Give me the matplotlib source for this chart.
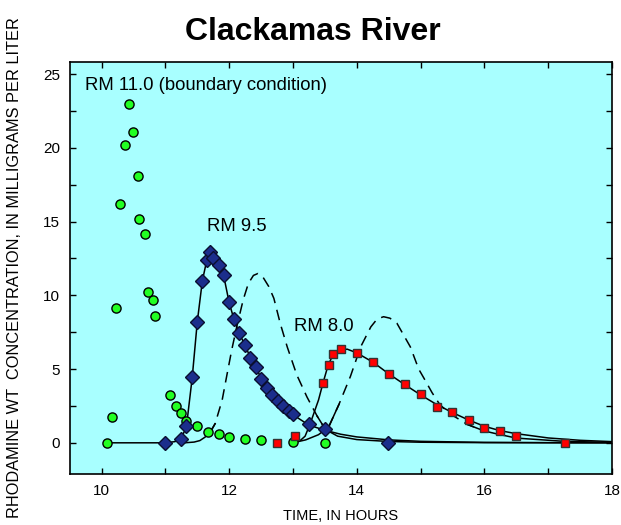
import matplotlib
matplotlib.use("Agg")
import matplotlib.pyplot as plt
import numpy as np
from matplotlib.ticker import MultipleLocator

plt.rcParams['font.family'] = ['Liberation Sans', 'DejaVu Sans']

# ---- Observed data ----
rm110_t = [10.08, 10.16, 10.225, 10.29, 10.37, 10.43, 10.50, 10.57, 10.59, 10.68,
           10.73, 10.80, 10.83, 11.08, 11.17, 11.25, 11.33, 11.50, 11.67, 11.84,
           12.00, 12.25, 12.50, 13.00, 13.50]
rm110_c = [0.0, 1.72, 9.11, 16.2, 20.2, 23.0, 21.06, 18.1, 15.17, 14.13,
           10.24, 9.65, 8.61, 3.23, 2.49, 1.99, 1.45, 1.13, 0.70, 0.59,
           0.39, 0.26, 0.20, 0.07, 0.0]

rm95_t = [11.00, 11.25, 11.33, 11.42, 11.50, 11.58, 11.65, 11.70, 11.75, 11.84,
          11.92, 12.00, 12.08, 12.16, 12.25, 12.33, 12.42, 12.50, 12.59, 12.67,
          12.77, 12.84, 12.93, 13.00, 13.25, 13.50, 14.49]
rm95_c = [0.0, 0.23, 1.15, 4.43, 8.2, 11.0, 12.39, 12.95, 12.5, 12.05,
          11.37, 9.56, 8.37, 7.43, 6.6, 5.74, 5.14, 4.36, 3.75, 3.23,
          2.85, 2.49, 2.15, 1.93, 1.25, 0.93, 0.0]

rm80_t = [12.75, 13.03, 13.47, 13.56, 13.63, 13.75, 14.00, 14.26, 14.50, 14.75,
          15.00, 15.25, 15.50, 15.76, 16.00, 16.25, 16.50, 17.26]
rm80_c = [0.0, 0.45, 4.08, 5.25, 6.01, 6.33, 6.06, 5.45, 4.68, 4.0,
          3.28, 2.4, 2.06, 1.54, 1.03, 0.77, 0.49, 0.0]

# ---- Simulated curves (solid = calibrated, dashed = alternative) ----
fit95_t = [10.08, 11.00, 11.15, 11.25, 11.33, 11.42, 11.50, 11.58, 11.65, 11.70,
           11.75, 11.84, 11.92, 12.00, 12.08, 12.16, 12.25, 12.33, 12.42, 12.50,
           12.67, 12.84, 13.00, 13.25, 13.50, 13.75, 14.00, 14.50, 15.00, 16.00,
           17.00, 18.00]
fit95_c = [0.0, 0.0, 0.08, 0.3, 1.1, 4.4, 8.2, 11.0, 12.4, 12.9,
           12.7, 12.0, 11.2, 9.5, 8.3, 7.4, 6.6, 5.8, 5.1, 4.4,
           3.3, 2.5, 1.9, 1.2, 0.85, 0.58, 0.4, 0.2, 0.1, 0.03,
           0.01, 0.0]

alt95_t = [11.30, 11.45, 11.54, 11.62, 11.70, 11.78, 11.89, 11.96, 12.04, 12.12,
           12.22, 12.30, 12.38, 12.45, 12.52, 12.62, 12.70, 12.80, 12.91, 13.06,
           13.22, 13.38, 13.51, 13.70, 14.00, 14.50, 15.00, 16.00, 18.00]
alt95_c = [0.0, 0.05, 0.15, 0.38, 0.7, 1.3, 2.9, 4.5, 6.3, 7.9,
           9.7, 10.8, 11.35, 11.48, 11.3, 10.6, 9.8, 8.1, 6.5, 4.6,
           3.1, 1.8, 0.9, 0.45, 0.22, 0.09, 0.04, 0.01, 0.0]

fit80_t = [13.00, 13.12, 13.19, 13.27, 13.40, 13.47, 13.55, 13.63, 13.75, 13.85,
           14.00, 14.26, 14.50, 14.75, 15.00, 15.25, 15.50, 15.75, 16.00, 16.25,
           16.50, 17.00, 17.50, 18.00]
fit80_c = [0.0, 0.18, 0.45, 1.3, 2.9, 4.05, 5.25, 6.0, 6.3, 6.35,
           6.1, 5.45, 4.68, 3.95, 3.25, 2.6, 2.05, 1.55, 1.12, 0.82,
           0.62, 0.33, 0.17, 0.08]

alt80_t = [13.00, 13.20, 13.40, 13.56, 13.72, 13.90, 14.06, 14.22, 14.32, 14.42,
           14.52, 14.63, 14.84, 14.97, 15.05, 15.18, 15.30, 15.45, 15.60, 15.73,
           16.00, 16.20, 16.50, 17.25, 18.00]
alt80_c = [0.0, 0.2, 0.55, 1.08, 2.6, 4.5, 6.5, 7.86, 8.4, 8.55,
           8.45, 8.1, 6.5, 5.0, 4.4, 3.4, 2.6, 2.0, 1.6, 1.25,
           0.8, 0.6, 0.32, 0.1, 0.03]

annotations = [("RM 11.0 (boundary condition)", 9.74, 24.25),
               ("RM 9.5", 11.66, 14.69),
               ("RM 8.0", 13.01, 7.86)]

fig = plt.figure(figsize=(6.21, 5.25), dpi=100)
ax = fig.add_axes([0.1122, 0.097, 0.8733, 0.7843])
ax.set_facecolor('#A8FFFF')

lw = 1.1
ax.plot(fit95_t, fit95_c, color='black', lw=lw, zorder=2)
ax.plot(fit80_t, fit80_c, color='black', lw=lw, zorder=2)


def split_plot(t, c, thr=1.2):
    """Alternative curves: dashed where high, solid near the baseline."""
    t = np.asarray(t, float)
    c = np.asarray(c, float)
    hi = c >= thr
    hi_ext = hi | np.r_[hi[1:], False] | np.r_[False, hi[:-1]]
    lo = ~hi
    lo_ext = lo | np.r_[lo[1:], False] | np.r_[False, lo[:-1]]
    ax.plot(t, np.where(lo_ext, c, np.nan), color='black', lw=lw, zorder=2)
    ax.plot(t, np.where(hi_ext, c, np.nan), color='black', lw=lw,
            ls=(0, (7, 4.5)), zorder=2)


split_plot(alt95_t, alt95_c)
split_plot(alt80_t, alt80_c)

ax.plot(rm110_t, rm110_c, ls='none', marker='o', ms=6.6, mfc='#22FF22',
        mec='black', mew=1.0, zorder=3)
ax.plot(rm95_t, rm95_c, ls='none', marker='D', ms=7.0, mfc='#1B2E8C',
        mec='#0A0F30', mew=1.0, zorder=4)
ax.plot(rm80_t, rm80_c, ls='none', marker='s', ms=6.4, mfc='#FF0000',
        mec='#333333', mew=1.0, zorder=5)

for txt, x, y in annotations:
    ax.text(x, y, txt, fontsize=13.3, ha='left', va='center', zorder=6)

ax.set_xlim(9.5, 18)
ax.set_ylim(-2.12, 25.8)
ax.xaxis.set_major_locator(MultipleLocator(2))
ax.xaxis.set_minor_locator(MultipleLocator(1))
ax.yaxis.set_major_locator(MultipleLocator(5))
ax.yaxis.set_minor_locator(MultipleLocator(2.5))
ax.tick_params(which='both', direction='in', top=True, right=True,
               length=4.3, width=1.0, labelsize=11, pad=7)
for s in ax.spines.values():
    s.set_linewidth(1.2)

ax.set_xlabel("TIME, IN HOURS", fontsize=10.5, labelpad=8)
fig.text(0.024, 0.4905, "RHODAMINE WT  CONCENTRATION, IN MILLIGRAMS PER LITER",
         rotation=90, fontsize=11.8, ha='center', va='center')
fig.text(0.503, 0.939, "Clackamas River", fontsize=23, fontweight='bold',
         ha='center', va='center')

fig.savefig("out.png", dpi=100)
